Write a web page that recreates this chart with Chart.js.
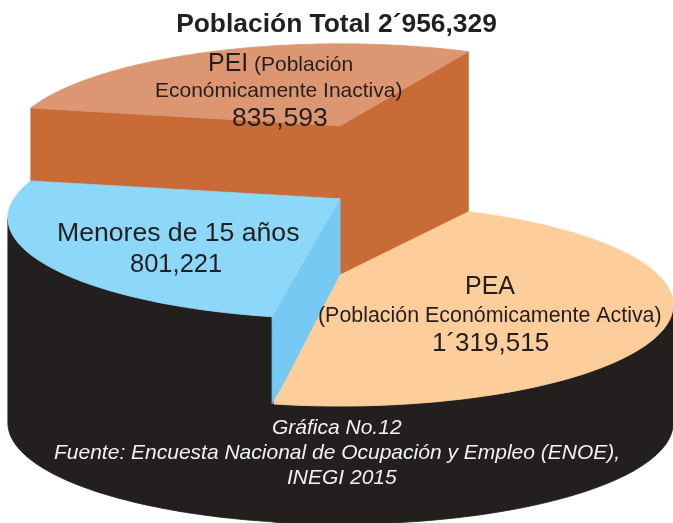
<!DOCTYPE html>
<html lang="es">

<head>
    <meta charset="UTF-8">
    <title>Población Total</title>
    <script src="https://cdn.jsdelivr.net/npm/chart.js@4"></script>
    <style>
        html, body { margin: 0; padding: 0; background: #fff; }
        canvas { display: block; }
    </style>
</head>

<body>
    <canvas id="grafica" width="673" height="523"></canvas>

<script>
    const tituloGrafica = 'Población Total 2´956,329';
    const categorias = ['PEA', 'Menores de 15 años', 'PEI'];
    const valores = [1319515, 801221, 835593];
    const coloresCara = ['#fdcd9b', '#8dd7f8', '#dc9672'];
    const colorBase = '#221f1e';

    // perspective of each slice, in units of the pie radius
    const vistas = [
        { dx: 0.015, dy: -0.046, rx: 1.405, near: 0.553, far: 0.300, fix: [0, -2.7], pared: 0.498, corte: [] },
        { dx: 0.015, dy: -0.367, rx: 1.401, near: 0.506, far: 0.346, fix: [-1.4, -7.75], pared: 0.865, corte: [{ borde: 0, alto: 0.367, color: '#75c9f2' }] },
        { dx: 0.015, dy: -0.675, rx: 1.401, near: 0.506, far: 0.346, fix: [-7.75, -3.2], pared: 0, corte: [{ borde: 0, alto: 0.696, color: '#c96b37' }, { borde: 1, alto: 0.696, color: '#c96b37' }] }
    ];

    const textos = [
        { t: 'PEI', x: 208, y: 71, size: 25, color: '#231f20' },
        { t: '(Población', x: 254, y: 71, size: 21, color: '#231f20' },
        { t: 'Económicamente Inactiva)', x: 155, y: 97, size: 21, color: '#231f20' },
        { t: '835,593', x: 232, y: 126, size: 26.5, color: '#231f20' },
        { t: 'Menores de 15 años', x: 57, y: 241, size: 26.6, color: '#231f20' },
        { t: '801,221', x: 130, y: 272, size: 25.5, color: '#231f20' },
        { t: 'PEA', x: 465, y: 294, size: 25, color: '#231f20' },
        { t: '(Población Económicamente Activa)', x: 318, y: 322, size: 21.4, color: '#231f20' },
        { t: '1´319,515', x: 432, y: 351, size: 26, color: '#231f20' },
        { t: 'Gráfica No.12', x: 272, y: 434, size: 21, color: '#f2f2f2', italic: true },
        { t: 'Fuente: Encuesta Nacional de Ocupación y Empleo (ENOE),', x: 54, y: 459, size: 21, color: '#f2f2f2', italic: true },
        { t: 'INEGI 2015', x: 287, y: 484, size: 21, color: '#f2f2f2', italic: true }
    ];

    // top face outline of a slice, circle projected with a simple perspective
    function geometria(arc, vista) {
        const r = arc.outerRadius;
        const near = vista.near * r, far = vista.far * r;
        const c = (near - far) / (near + far);
        const b = near * (1 - c);
        const a = vista.rx * r * Math.sqrt(1 - c * c);
        const ax = arc.x + vista.dx * r, ay = arc.y + vista.dy * r;
        const ini = arc.startAngle + vista.fix[0] * Math.PI / 180;
        const fin = arc.endAngle + vista.fix[1] * Math.PI / 180;
        const borde = [];
        for (let k = 0; k <= 90; k++) {
            const ang = ini + (fin - ini) * k / 90;
            const w = 1 - c * Math.sin(ang);
            borde.push({ x: ax + a * Math.cos(ang) / w, y: ay + b * Math.sin(ang) / w });
        }
        return { apice: { x: ax, y: ay }, borde: borde };
    }

    const bajar = (pt, d) => ({ x: pt.x, y: pt.y + d });

    function poligono(ctx, puntos, color) {
        ctx.beginPath();
        puntos.forEach((p, i) => i ? ctx.lineTo(p.x, p.y) : ctx.moveTo(p.x, p.y));
        ctx.closePath();
        ctx.fillStyle = color;
        ctx.fill();
        ctx.strokeStyle = color;
        ctx.lineWidth = 0.8;
        ctx.stroke();
    }

    const pastel3d = {
        id: 'pastel3d',
        beforeDatasetDraw() {
            return false; // the arcs get painted below, with their depth
        },
        afterDatasetsDraw(chart) {
            const ctx = chart.ctx;
            const arcos = chart.getDatasetMeta(0).data;
            const geo = arcos.map((arc, i) => geometria(arc, vistas[i]));
            const radio = arcos[0].outerRadius;

            const cortes = i => vistas[i].corte.forEach(cr => {
                const d = cr.alto * radio;
                const e = cr.borde ? geo[i].borde[90] : geo[i].borde[0];
                poligono(ctx, [geo[i].apice, e, bajar(e, d), bajar(geo[i].apice, d)], cr.color);
            });
            const cara = i => poligono(ctx, [geo[i].apice].concat(geo[i].borde), arcos[i].options.backgroundColor);

            // the raised slice sits at the back
            cortes(2);
            cara(2);

            // black wall: one outline from the rightmost point of PEA to the leftmost of Menores
            const xs0 = geo[0].borde.map(p => p.x), xs1 = geo[1].borde.map(p => p.x);
            const tramo0 = geo[0].borde.slice(xs0.indexOf(Math.max(...xs0)));
            const tramo1 = geo[1].borde.slice(0, xs1.indexOf(Math.min(...xs1)) + 1);
            const abajo0 = tramo0.map(p => bajar(p, vistas[0].pared * radio));
            const abajo1 = tramo1.map(p => bajar(p, vistas[1].pared * radio));
            poligono(ctx, tramo0.concat(tramo1, abajo1.reverse(), abajo0.reverse()), colorBase);

            cortes(1);
            cara(1);
            cara(0);

            ctx.save();
            ctx.textBaseline = 'alphabetic';
            ctx.textAlign = 'left';
            textos.forEach(tx => {
                ctx.font = (tx.italic ? 'italic ' : '') + tx.size + 'px "Liberation Sans"';
                ctx.fillStyle = tx.color;
                ctx.fillText(tx.t, tx.x, tx.y);
            });
            ctx.restore();
        }
    };

    new Chart(document.getElementById('grafica'), {
        type: 'pie',
        data: {
            labels: categorias,
            datasets: [{ data: valores, backgroundColor: coloresCara, borderWidth: 0 }]
        },
        options: {
            responsive: false,
            animation: false,
            rotation: 30.5,
            layout: { padding: 0 },
            plugins: {
                legend: { display: false },
                tooltip: { enabled: false },
                title: {
                    display: true,
                    text: tituloGrafica,
                    color: '#231f20',
                    font: { family: '"Liberation Sans"', size: 26.4, weight: 'bold' },
                    padding: { top: 9, bottom: 8.1 }
                }
            }
        },
        plugins: [pastel3d]
    });
</script>
</body>

</html>
